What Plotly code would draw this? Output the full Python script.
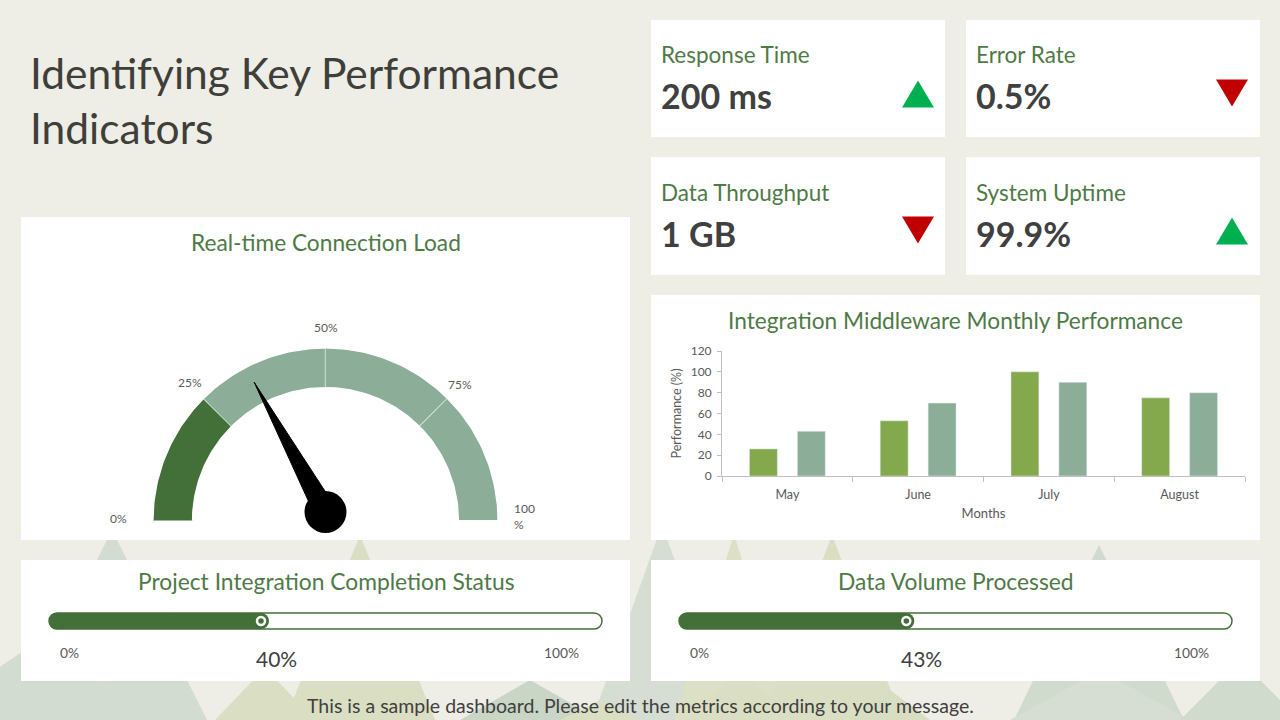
import math
import plotly.graph_objects as go

W, H = 1280, 720

# ---------------- data ----------------
title_lines = ["Identifying Key Performance", "Indicators"]

kpi_labels = ["Response Time", "Error Rate", "Data Throughput", "System Uptime"]
kpi_values = ["200 ms", "0.5%", "1 GB", "99.9%"]
kpi_trends = ["up", "down", "down", "up"]

gauge_title = "Real-time Connection Load"
gauge_value = 34
gauge_band_edges = [0, 25, 50, 75, 100]
gauge_tick_values = [0, 25, 50, 75, 100]
gauge_tick_labels = ["0%", "25%", "50%", "75%", "100<br>%"]

bar_title = "Integration Middleware Monthly Performance"
months = ["May", "June", "July", "August"]
series_a = [26, 53, 100, 75]
series_b = [43, 70, 90, 80]
y_ticks = [0, 20, 40, 60, 80, 100, 120]

progress_titles = ["Project Integration Completion Status", "Data Volume Processed"]
progress_values = [40, 43]
progress_end_labels = ["0%", "100%"]

footer_text = "This is a sample dashboard. Please edit the metrics according to your message."

# ---------------- style ----------------
BG = "#EEEDE6"
GREEN_TXT = "#4E7A46"
DARK = "#436F38"
SAGE = "#8CAE99"
OLIVE = "#84A84C"
TXT = "#404040"
TICK = "#595959"
AXIS = "#BFBFBF"
UP = "#00B050"
DOWN = "#C00000"
FONT = "Lato"
band_colors = [DARK, SAGE, SAGE, SAGE]


def X(px):
    return px / W


def Y(py):
    return 1 - py / H


def pt(x, y):
    return f"{X(x):.6f},{Y(y):.6f}"


def rrect_path(x0, y0, x1, y1, r):
    k = 0.5523 * r
    return (f"M{pt(x0 + r, y0)} L{pt(x1 - r, y0)} "
            f"C{pt(x1 - r + k, y0)} {pt(x1, y0 + r - k)} {pt(x1, y0 + r)} "
            f"L{pt(x1, y1 - r)} "
            f"C{pt(x1, y1 - r + k)} {pt(x1 - r + k, y1)} {pt(x1 - r, y1)} "
            f"L{pt(x0 + r, y1)} "
            f"C{pt(x0 + r - k, y1)} {pt(x0, y1 - r + k)} {pt(x0, y1 - r)} "
            f"L{pt(x0, y0 + r)} "
            f"C{pt(x0, y0 + r - k)} {pt(x0 + r - k, y0)} {pt(x0 + r, y0)} Z")


shapes = []

# background decorative triangles
tri_specs = [
    (112, 530, 95, "#D3DCD1"), (360, 535, 75, "#DADFC3"), (662, 525, 70, "#D6DDD3"),
    (734, 535, 60, "#DCE0C5"), (832, 535, 70, "#DADFC3"), (1099, 545, 85, "#D0DACD"),
    (40, 640, 120, "#D3DCD1"), (265, 668, 50, "#DADFC3"), (530, 680, 70, "#C9D5C5"),
    (740, 668, 55, "#DADFC3"), (890, 690, 40, "#D8DEC2"), (1100, 670, 90, "#D6DDD3"),
    (1240, 660, 60, "#D0DACD"), (600, 700, 40, "#DADFC3"),
]
for ax_, ay_, hw, col in tri_specs:
    shapes.append(dict(type="path", xref="paper", yref="paper", layer="below",
                       path=f"M{pt(ax_, ay_)} L{pt(ax_ + hw, 720)} L{pt(ax_ - hw, 720)} Z",
                       fillcolor=col, line=dict(width=0)))

# cards
cards = [
    (651, 20, 945, 137), (966, 20, 1260, 137), (651, 157, 945, 275), (966, 157, 1260, 275),
    (21, 217, 630, 540), (651, 295, 1260, 540), (21, 560, 630, 681), (651, 560, 1260, 681),
]
for x0, y0, x1, y1 in cards:
    shapes.append(dict(type="rect", xref="paper", yref="paper", layer="below",
                       x0=X(x0), x1=X(x1), y0=Y(y1), y1=Y(y0),
                       fillcolor="white", line=dict(width=0)))

annotations = []


def text(x, y, s, size, color=TXT, xanchor="center", bold=False, align="center", **kw):
    d = dict(x=X(x), y=Y(y), xref="paper", yref="paper", text=(f"<b>{s}</b>" if bold else s),
             showarrow=False, xanchor=xanchor, yanchor="middle", align=align,
             font=dict(family=FONT, size=size, color=color))
    d.update(kw)
    annotations.append(d)


# title
text(28, 73, title_lines[0], 42.5, color="#3F3F3A", xanchor="left")
text(28, 127, title_lines[1], 42.5, color="#3F3F3A", xanchor="left")

# KPI cards
kpi_pos = [(659, 55, 918, 94), (974, 55, 1232, 93), (659, 193, 918, 230), (974, 193, 1232, 231)]
for (lx, ly, tx, ty), lab, val, trend in zip(kpi_pos, kpi_labels, kpi_values, kpi_trends):
    text(lx, ly, lab, 22.5, color=GREEN_TXT, xanchor="left")
    text(lx, ly + 41, val, 34, color=TXT, xanchor="left", bold=True)
    hw, hh = 16, 13.5
    if trend == "up":
        path = f"M{pt(tx, ty - hh)} L{pt(tx + hw, ty + hh)} L{pt(tx - hw, ty + hh)} Z"
        col = UP
    else:
        path = f"M{pt(tx - hw, ty - hh)} L{pt(tx + hw, ty - hh)} L{pt(tx, ty + hh)} Z"
        col = DOWN
    shapes.append(dict(type="path", xref="paper", yref="paper", layer="below",
                       path=path, fillcolor=col, line=dict(width=0)))

traces = []

# ---------------- gauge (canvas axis in pixel units) ----------------
CX, CY, R_OUT, R_IN = 325.5, 520.5, 172.5, 133
PIV_Y = 512


def ang(v):
    return math.pi * (1 - v / 100)


for i in range(len(gauge_band_edges) - 1):
    v0, v1 = gauge_band_edges[i], gauge_band_edges[i + 1]
    n = 40
    vs = [v0 + (v1 - v0) * k / n for k in range(n + 1)]
    xs = [CX + R_OUT * math.cos(ang(v)) for v in vs] + [CX + R_IN * math.cos(ang(v)) for v in reversed(vs)]
    ys = [CY - R_OUT * math.sin(ang(v)) for v in vs] + [CY - R_IN * math.sin(ang(v)) for v in reversed(vs)]
    traces.append(go.Scatter(x=xs, y=ys, fill="toself", fillcolor=band_colors[i], mode="lines",
                             line=dict(color="white", width=1.2), hoverinfo="skip",
                             showlegend=False, xaxis="x", yaxis="y"))

th = ang(gauge_value)
L, HW = 148, 11
tipx, tipy = CX + L * math.cos(th), PIV_Y - L * math.sin(th)
px_, py_ = math.sin(th), math.cos(th)
traces.append(go.Scatter(x=[tipx, CX + HW * px_, CX - HW * px_, tipx],
                         y=[tipy, PIV_Y + HW * py_, PIV_Y - HW * py_, tipy],
                         fill="toself", fillcolor="black", mode="lines", line=dict(color="black", width=1),
                         hoverinfo="skip", showlegend=False, xaxis="x", yaxis="y"))
traces.append(go.Scatter(x=[CX], y=[PIV_Y], mode="markers", marker=dict(size=42, color="black"),
                         hoverinfo="skip", showlegend=False, xaxis="x", yaxis="y"))

text(326, 242, gauge_title, 22.7, color=GREEN_TXT)
label_r = [207, 192, 191, 190, 195]
for v, lab, rr in zip(gauge_tick_values, gauge_tick_labels, label_r):
    lx = CX + rr * math.cos(ang(v))
    ly = CY - rr * math.sin(ang(v))
    if v == 100:
        text(lx + 4, ly - 4, lab, 12, color=TICK, align="left")
    else:
        text(lx, ly - 2, lab, 12, color=TICK)

# ---------------- bar chart ----------------
traces.append(go.Bar(x=months, y=series_a, marker=dict(color=OLIVE), xaxis="x2", yaxis="y2",
                     hoverinfo="skip", showlegend=False))
traces.append(go.Bar(x=months, y=series_b, marker=dict(color=SAGE), xaxis="x2", yaxis="y2",
                     hoverinfo="skip", showlegend=False))
text(955, 320, bar_title, 22.7, color=GREEN_TXT)

# ---------------- progress bars ----------------
prog_cards = [(21, "x3", "y3"), (651, "x4", "y4")]
for (ox, xa, ya), ttl, val in zip(prog_cards, progress_titles, progress_values):
    text(ox + 305, 581, ttl, 22.8, color=GREEN_TXT)
    shapes.append(dict(type="path", xref="paper", yref="paper", layer="below",
                       path=rrect_path(ox + 28, 613, ox + 581, 629, 8),
                       fillcolor="white", line=dict(color=DARK, width=1.5)))
    traces.append(go.Scatter(x=[0, val], y=[0, 0], mode="lines+markers",
                             line=dict(color=DARK, width=16), marker=dict(size=16, color=DARK),
                             cliponaxis=False, hoverinfo="skip", showlegend=False, xaxis=xa, yaxis=ya))
    traces.append(go.Scatter(x=[val], y=[0], mode="markers",
                             marker=dict(size=8, color=DARK, line=dict(color="white", width=2.5)),
                             cliponaxis=False, hoverinfo="skip", showlegend=False, xaxis=xa, yaxis=ya))
    text(ox + 48, 652, progress_end_labels[0], 13.8, color=TICK)
    text(ox + 540, 652, progress_end_labels[1], 13.8, color=TICK)
    annotations.append(dict(x=val, xref=xa, y=Y(658), yref="paper", text=f"{val}%", showarrow=False,
                            xshift=15, xanchor="center", yanchor="middle",
                            font=dict(family=FONT, size=21, color=TXT)))

text(640, 705, footer_text, 19.5, color=TXT)

fig = go.Figure(data=traces)

hidden = dict(visible=False, fixedrange=True, showgrid=False, zeroline=False)
fig.update_layout(
    width=W, height=H, autosize=False,
    margin=dict(l=0, r=0, t=0, b=0, pad=0, autoexpand=False),
    paper_bgcolor=BG, plot_bgcolor="rgba(0,0,0,0)",
    showlegend=False, barmode="group", bargap=0.267, bargroupgap=0.417,
    font=dict(family=FONT, color=TXT),
    shapes=shapes, annotations=annotations,
    xaxis=dict(domain=[0, 1], range=[0, W], **hidden),
    yaxis=dict(domain=[0, 1], range=[H, 0], **hidden),
    xaxis2=dict(domain=[X(722), X(1245)], anchor="y2", type="category", categoryorder="array",
                categoryarray=months, tickson="boundaries", ticks="outside", ticklen=5,
                tickcolor=AXIS, showline=True, linecolor=AXIS, linewidth=1, showgrid=False,
                ticklabelstandoff=7,
                tickfont=dict(size=12.5, color=TICK, family=FONT),
                title=dict(text="Months", font=dict(size=13, color=TICK, family=FONT), standoff=7),
                fixedrange=True),
    yaxis2=dict(domain=[Y(476), Y(351)], anchor="x2", range=[0, 120], tickmode="array",
                tickvals=y_ticks, ticks="outside", ticklen=4, tickcolor=AXIS, showline=True,
                linecolor=AXIS, linewidth=1, showgrid=False, zeroline=False,
                ticklabelstandoff=3,
                tickfont=dict(size=12, color=TICK, family=FONT),
                title=dict(text="Performance (%)", font=dict(size=12.5, color=TICK, family=FONT), standoff=6),
                fixedrange=True),
    xaxis3=dict(domain=[X(21 + 36), X(21 + 546)], range=[0, 100], anchor="y3", **hidden),
    yaxis3=dict(domain=[Y(637), Y(605)], range=[-1, 1], anchor="x3", **hidden),
    xaxis4=dict(domain=[X(651 + 36), X(651 + 546)], range=[0, 100], anchor="y4", **hidden),
    yaxis4=dict(domain=[Y(637), Y(605)], range=[-1, 1], anchor="x4", **hidden),
)

fig.write_html("out.html")
